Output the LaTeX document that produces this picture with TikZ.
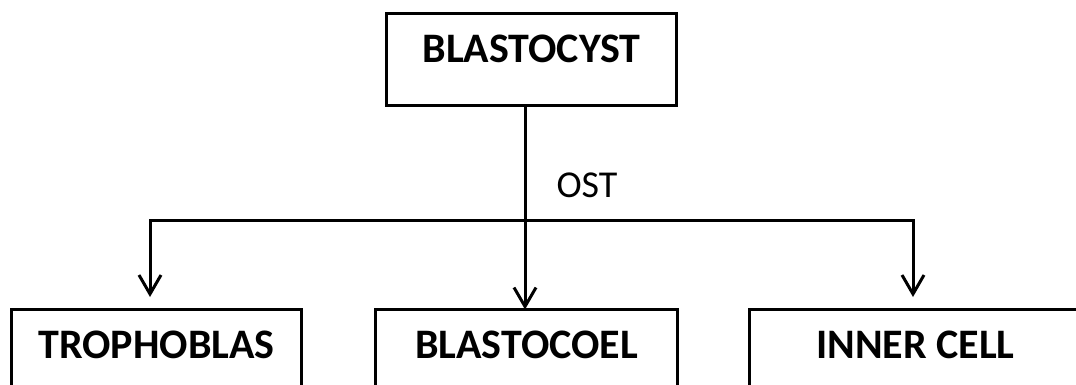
\documentclass[tikz,border=0pt]{standalone}
\usepackage{fontspec}
\setmainfont{Carlito}
\usetikzlibrary{arrows.meta}
\begin{document}
\begin{tikzpicture}[x=1pt,y=-1pt,
        box/.style={draw,line width=3pt,inner sep=0pt,outer sep=0pt,anchor=north west,
            font=\fontsize{42}{42}\selectfont\bfseries},
        link/.style={line width=3pt},
        arr/.style={link,-{Straight Barb[length=19pt,width=22pt,line width=3pt]}}]
        \useasboundingbox (0,0) rectangle (1076,385);
        \clip (0,0) rectangle (1076,385);
        \node[box,minimum width=290pt,text height=49.5pt,text depth=42.5pt] (blast) at (386.5,13.5) {BLASTOCYST};
        \node[box,minimum width=290pt,text height=48.5pt,text depth=70pt] (tropho) at (11.5,309.5) {TROPHOBLAS};
        \node[box,minimum width=302pt,text height=48.5pt,text depth=70pt] (coel) at (375.5,309.5) {BLASTOCOEL};
        \node[box,minimum width=332pt,text height=48.5pt,text depth=70pt] (inner) at (749.5,309.5) {INNER CELL};
        \node[anchor=base,font=\fontsize{38}{38}\selectfont] (ost) at (587,197) {OST};
        \coordinate (fork) at (525,220);
        \coordinate (tipl) at (150,297);
        \coordinate (tipr) at (913,297);
        \draw[arr] (blast.south -| fork) -- (fork |- coel.north);
        \draw[arr] (fork) -| (tipl);
        \draw[arr] (fork) -| (tipr);
    \end{tikzpicture}
\end{document}
